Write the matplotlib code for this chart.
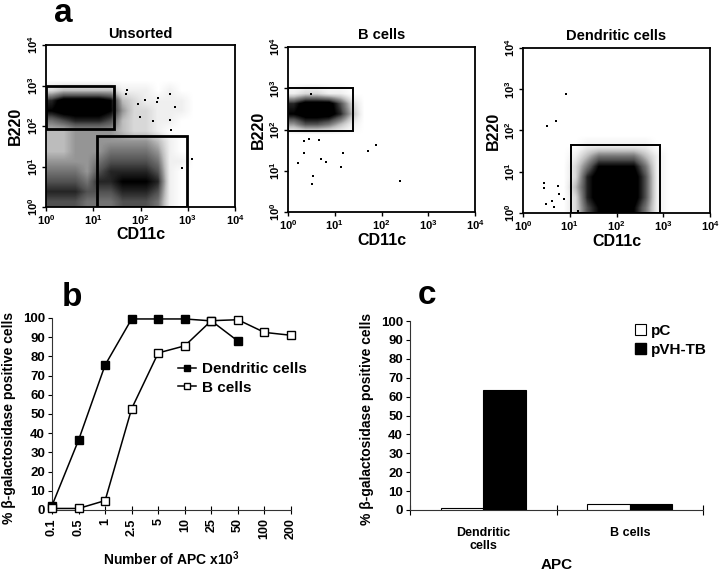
import numpy as np
import matplotlib
matplotlib.use('Agg')
import matplotlib.pyplot as plt
from matplotlib.patches import Rectangle, Patch
from matplotlib.lines import Line2D

plt.rcParams['font.family'] = ['Liberation Sans', 'DejaVu Sans']
plt.rcParams['font.weight'] = 'bold'
plt.rcParams['axes.labelweight'] = 'bold'
plt.rcParams['mathtext.fontset'] = 'custom'
plt.rcParams['mathtext.rm'] = 'Liberation Sans:bold'
plt.rcParams['mathtext.bf'] = 'Liberation Sans:bold'
plt.rcParams['mathtext.it'] = 'Liberation Sans:bold:italic'

# ---------------- data: panel a (flow cytometry, log10 units) ----------------
flow_titles = ['Unsorted', 'B cells', 'Dendritic cells']
log_ticks = [0, 1, 2, 3, 4]
log_tick_labels = [r'$10^{0}$', r'$10^{1}$', r'$10^{2}$', r'$10^{3}$', r'$10^{4}$']

# event density, 16x16 cells of 0.25 decade,
# rows from B220 = 10^4 (top) down to 10^0, columns CD11c 10^0 -> 10^4 (0..9)
unsorted_density = [
    "0000000000000000",
    "0000000000000000",
    "0000000000000000",
    "0000000000000000",
    "2333331110100000",
    "7999983211110000",
    "8999984221110000",
    "5677763221100000",
    "3344443221000000",
    "3344444443100000",
    "3344455554100000",
    "4444566665110000",
    "5554677776100000",
    "6665778887100000",
    "7776667776100000",
    "6665556665100000",
]
bcell_density = [
    "0000000000000000",
    "0000000000000000",
    "0000000000000000",
    "0000000000000000",
    "1221100000000000",
    "7999620000000000",
    "8999730000000000",
    "4665310000000000",
    "0000000000000000",
    "0000000000000000",
    "0000000000000000",
    "0000000000000000",
    "0000000000000000",
    "0000000000000000",
    "0000000000000000",
    "0000000000000000",
]
dc_density = [
    "0000000000000000",
    "0000000000000000",
    "0000000000000000",
    "0000000000000000",
    "0000000000000000",
    "0000000000000000",
    "0000000000000000",
    "0000000000000000",
    "0000000000000000",
    "0000011111100000",
    "0000135555310000",
    "0000258888510000",
    "0000279999610000",
    "0000379999610000",
    "0000279999610000",
    "0000268888510000",
]

# sparse events (log10 CD11c, log10 B220)
unsorted_out_x = [1.72, 1.69, 2.38, 2.62, 2.73, 2.62, 2.64, 2.34, 1.95, 2.09, 2.27, 1.99, 3.09, 2.87]
unsorted_out_y = [2.88, 2.80, 2.69, 2.80, 2.46, 2.16, 1.90, 2.59, 2.55, 2.65, 2.13, 2.22, 1.18, 0.97]
bcell_out_x = [0.50, 0.34, 0.44, 0.67, 0.34, 0.22, 0.70, 0.81, 1.18, 1.13, 1.71, 1.88, 0.54, 0.52, 2.39]
bcell_out_y = [2.86, 1.71, 1.78, 1.75, 1.42, 1.20, 1.28, 1.22, 1.43, 1.10, 1.47, 1.62, 0.87, 0.67, 0.76]
dc_out_x = [0.93, 0.71, 0.52, 0.45, 0.45, 0.74, 0.76, 0.62, 0.49, 0.88, 0.66, 1.17]
dc_out_y = [2.88, 2.22, 2.10, 0.72, 0.60, 0.66, 0.47, 0.29, 0.21, 0.34, 0.14, 0.06]

# sort gates (x0, x1, y0, y1) in log10 units
unsorted_gates = [(0.0, 1.43, 1.93, 3.0), (1.08, 2.98, 0.0, 1.75)]
bcell_gates = [(0.0, 1.38, 1.97, 3.0)]
dc_gates = [(1.03, 2.92, 0.0, 1.66)]

# ---------------- data: panel b ----------------
apc_labels = ['0.1', '0.5', '1', '2.5', '5', '10', '25', '50', '100', '200']
dc_positive = [2.3, 36.4, 75.5, 99.5, 99.5, 99.5, 98.5, 88.0]
b_positive = [0.8, 0.8, 4.9, 52.8, 81.8, 85.5, 98.6, 99.1, 92.5, 91.0]

# ---------------- data: panel c ----------------
apc_types = ['Dendritic\ncells', 'B cells']
pc_values = [1.0, 3.0]
pvh_values = [63.3, 3.0]

W, H = 720, 574
fig = plt.figure(figsize=(W / 100, H / 100), dpi=100)


def px_axes(l, t, r, b):
    return fig.add_axes([l / W, 1 - b / H, (r - l) / W, (b - t) / H])


flow_boxes = [(46, 45, 235, 207), (288, 47, 475, 212), (523, 48, 710, 213)]
flow_dens = [unsorted_density, bcell_density, dc_density]
flow_out = [(unsorted_out_x, unsorted_out_y), (bcell_out_x, bcell_out_y), (dc_out_x, dc_out_y)]
flow_gates = [unsorted_gates, bcell_gates, dc_gates]
gate_lw = [2.0, 1.4, 1.4]

for i in range(3):
    ax = px_axes(*flow_boxes[i])
    dens = np.array([[int(c) for c in row] for row in flow_dens[i]], dtype=float)
    ax.imshow(dens, extent=(0, 4, 0, 4), origin='upper', cmap='Greys', vmin=0, vmax=8.0,
              interpolation='bilinear', aspect='auto', zorder=1)
    ox, oy = flow_out[i]
    ax.scatter(ox, oy, s=2.5, marker='s', c='k', linewidths=0, zorder=2)
    for (x0, x1, y0, y1) in flow_gates[i]:
        ax.add_patch(Rectangle((x0, y0), x1 - x0, y1 - y0, fill=False, ec='k',
                               lw=gate_lw[i], zorder=3))
    ax.set_xlim(0, 4)
    ax.set_ylim(0, 4)
    ax.set_xticks(log_ticks)
    ax.set_xticklabels(log_tick_labels, fontsize=8)
    ax.set_yticks(log_ticks)
    ax.set_yticklabels(log_tick_labels, fontsize=8, rotation=90, va='center')
    ax.tick_params(length=3, width=1, direction='out', pad=1.5)
    for sp in ax.spines.values():
        sp.set_linewidth(1.3)
    ax.set_xlabel('CD11c', fontsize=11.5, fontweight='bold')
    ax.set_ylabel('B220', fontsize=11.5, fontweight='bold')
    ax.xaxis.set_label_coords(0.5, -0.125)
    ax.yaxis.set_label_coords(-0.12, 0.5)
    ax.text(0.5, 1.07, flow_titles[i], transform=ax.transAxes, ha='center', va='center',
            fontsize=10.5, fontweight='bold')

fig.text(63 / W, 1 - 14 / H, 'a', fontsize=24, fontweight='bold', ha='center', va='center')

# ---------------- panel b ----------------
axb = px_axes(52, 318, 291, 510)
xb = np.arange(len(apc_labels))
axb.plot(xb[:len(dc_positive)], dc_positive, color='k', lw=1.1, marker='s', ms=5.5,
         mfc='k', mec='k', clip_on=False, zorder=3)
axb.plot(xb, b_positive, color='k', lw=1.1, marker='s', ms=5.5, mfc='white', mec='k',
         mew=1.0, clip_on=False, zorder=4)
axb.set_xlim(0, 9)
axb.set_ylim(0, 100)
axb.set_xticks(xb)
axb.set_xticklabels(apc_labels, rotation=90, fontsize=9)
axb.set_yticks(np.arange(0, 101, 10))
axb.tick_params(axis='y', labelsize=9.5, length=3, direction='out', width=0.8, pad=2)
axb.tick_params(axis='x', length=6, direction='inout', width=0.8, pad=3)
for s in ['top', 'right']:
    axb.spines[s].set_visible(False)
for s in ['left', 'bottom']:
    axb.spines[s].set_linewidth(0.8)
    axb.spines[s].set_color('#333333')
axb.set_ylabel('% β-galactosidase positive cells', fontsize=10, fontweight='bold')
axb.yaxis.set_label_coords(-0.15, 0.48)
axb.set_xlabel('Number of APC x10$^{3}$', fontsize=10, fontweight='bold')
axb.xaxis.set_label_coords(0.5, -0.205)
hb = [Line2D([], [], color='k', lw=1.1, marker='s', ms=5, mfc='k'),
      Line2D([], [], color='k', lw=1.1, marker='s', ms=5, mfc='white')]
fig.legend(hb, ['Dendritic cells', 'B cells'], loc='upper left',
           bbox_to_anchor=(178 / W, 1 - 362 / H), frameon=False, fontsize=11,
           handlelength=1.2, handletextpad=0.35, labelspacing=0.3,
           borderpad=0, borderaxespad=0)
fig.text(72 / W, 1 - 297 / H, 'b', fontsize=24, fontweight='bold', ha='center', va='center')

# ---------------- panel c ----------------
axc = px_axes(410, 321, 703, 510)
xc = np.arange(len(apc_types)) + 0.5
bw = 0.29
axc.bar(xc - bw / 2, pc_values, width=bw, color='white', edgecolor='k', lw=0.8, zorder=3)
axc.bar(xc + bw / 2, pvh_values, width=bw, color='k', edgecolor='k', lw=0.8, zorder=3)
axc.set_xlim(0, 2)
axc.set_ylim(0, 100)
axc.set_xticks([0, 1, 2])
axc.set_xticklabels(['', '', ''])
axc.set_xticks(xc, minor=True)
axc.set_xticklabels(apc_types, minor=True, fontsize=9)
axc.tick_params(axis='x', which='major', length=7, direction='inout', width=0.8)
axc.tick_params(axis='x', which='minor', length=0, pad=12)
axc.set_yticks(np.arange(0, 101, 10))
axc.tick_params(axis='y', labelsize=9.5, length=3, direction='out', width=0.8, pad=2)
for s in ['top', 'right']:
    axc.spines[s].set_visible(False)
for s in ['left', 'bottom']:
    axc.spines[s].set_linewidth(0.8)
    axc.spines[s].set_color('#333333')
axc.set_ylabel('% β-galactosidase positive cells', fontsize=10, fontweight='bold')
axc.yaxis.set_label_coords(-0.123, 0.48)
axc.set_xlabel('APC', fontsize=11, fontweight='bold')
axc.xaxis.set_label_coords(0.5, -0.255)
hc = [Patch(facecolor='white', edgecolor='k', lw=0.8), Patch(facecolor='k', edgecolor='k')]
fig.legend(hc, ['pC', 'pVH-TB'], loc='upper left', bbox_to_anchor=(635 / W, 1 - 324 / H),
           frameon=False, fontsize=11, handlelength=0.75, handleheight=0.75,
           handletextpad=0.3, labelspacing=0.3, borderpad=0, borderaxespad=0)
fig.text(427 / W, 1 - 295 / H, 'c', fontsize=24, fontweight='bold', ha='center', va='center')

fig.savefig('out.png', dpi=100)
